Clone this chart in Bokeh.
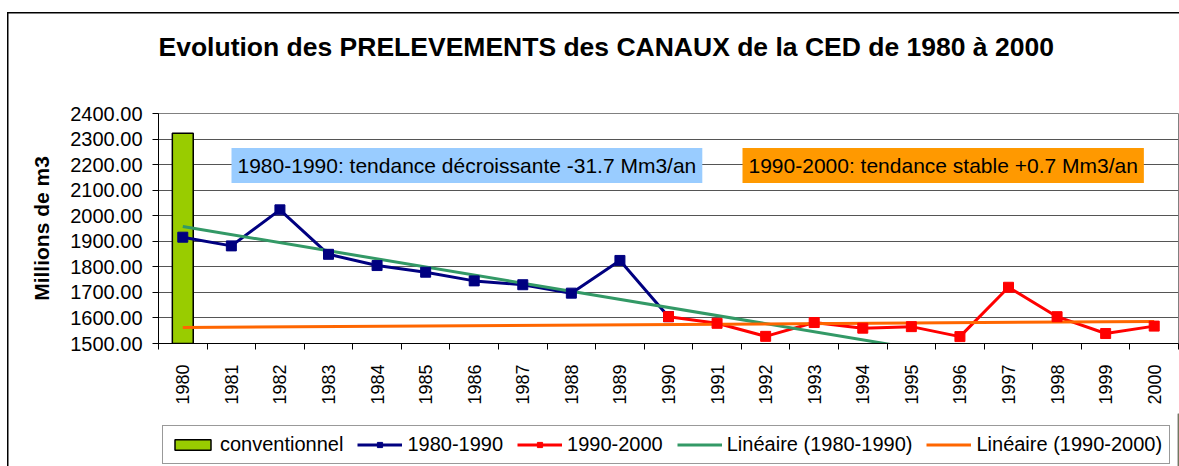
import math
from bokeh.plotting import figure
from bokeh.layouts import column
from bokeh.models import (Range1d, FixedTicker, PrintfTickFormatter, Legend, LegendItem,
                          Label, BasicTickFormatter)
from bokeh.embed import file_html
from bokeh.resources import INLINE

# ---- data ----
years = [1980, 1981, 1982, 1983, 1984, 1985, 1986, 1987, 1988, 1989, 1990,
         1991, 1992, 1993, 1994, 1995, 1996, 1997, 1998, 1999, 2000]
y_ticks = [1500, 1600, 1700, 1800, 1900, 2000, 2100, 2200, 2300, 2400]

conv_years = [1980]
conv_values = [2323]

s1_years = [1980, 1981, 1982, 1983, 1984, 1985, 1986, 1987, 1988, 1989, 1990]
s1_values = [1916, 1882, 2023, 1849, 1805, 1779, 1745, 1730, 1697, 1825, 1605]

s2_years = [1990, 1991, 1992, 1993, 1994, 1995, 1996, 1997, 1998, 1999, 2000]
s2_values = [1605, 1579, 1528, 1582, 1560, 1566, 1527, 1720, 1605, 1539, 1568]

trend1_years = [1980, 1995]
trend1_values = [1958, 1482.5]
trend2_years = [1980, 2000]
trend2_values = [1563, 1586]

title_text = "Evolution des PRELEVEMENTS des CANAUX de la CED de 1980 à 2000"
note1 = "1980-1990: tendance décroissante -31.7 Mm3/an"
note2 = "1990-2000: tendance stable +0.7 Mm3/an"
legend_labels = ["conventionnel", "1980-1990", "1990-2000",
                 "Linéaire (1980-1990)", "Linéaire (1990-2000)"]
FONT = "Liberation Sans"

C_BAR, C_S1, C_S2, C_T1, C_T2 = "#99CC00", "#000080", "#FF0000", "#339966", "#FF6600"
W = 1179


def strip(height):
    f = figure(width=W, height=height, output_backend="svg", toolbar_location=None,
               x_range=Range1d(0, 1), y_range=Range1d(0, 1),
               x_axis_location=None, y_axis_location=None, min_border=0,
               background_fill_color=None, border_fill_color=None)
    f.outline_line_color = None
    f.grid.visible = False
    return f


# ---- title strip ----
t = strip(68)
t.add_layout(Label(x=0, y=22, x_units="screen", y_units="screen", text=title_text,
                   text_font=FONT, text_font_size="26.5px", text_font_style="bold",
                   text_color="black", text_align="left", text_baseline="alphabetic"))

# ---- main chart ----
p = figure(width=W, height=345, output_backend="svg", toolbar_location=None,
           x_range=Range1d(years[0] - 0.5, years[-1] + 0.5),
           y_range=Range1d(y_ticks[0], y_ticks[-1]),
           min_border_left=158, min_border_right=1, min_border_top=45, min_border_bottom=70,
           background_fill_color="white", border_fill_color=None)
p.outline_line_color = "#808080"
p.outline_line_width = 1

p.xgrid.visible = False
p.ygrid.ticker = FixedTicker(ticks=y_ticks)
p.ygrid.grid_line_color = "#555555"
p.ygrid.grid_line_width = 1

p.yaxis.ticker = FixedTicker(ticks=y_ticks)
p.yaxis.formatter = PrintfTickFormatter(format="%.2f")
p.yaxis.major_tick_out = 6
p.yaxis.major_tick_in = 0
p.yaxis.minor_tick_line_color = None
p.yaxis.axis_line_color = "black"
p.yaxis.major_tick_line_color = "black"
p.yaxis.major_label_text_font = FONT
p.yaxis.major_label_text_font_size = "20px"
p.yaxis.major_label_text_color = "black"
p.yaxis.major_label_standoff = 10
p.yaxis.axis_label = "Millions de m3"
p.yaxis.axis_label_text_font = FONT
p.yaxis.axis_label_text_font_size = "21px"
p.yaxis.axis_label_text_font_style = "bold"
p.yaxis.axis_label_text_color = "black"
p.yaxis.axis_label_standoff = 14

p.xaxis.ticker = FixedTicker(ticks=years, minor_ticks=[y - 0.5 for y in years] + [years[-1] + 0.5])
p.xaxis.formatter = BasicTickFormatter(use_scientific=False)
p.xaxis.major_tick_out = 0
p.xaxis.major_tick_in = 0
p.xaxis.minor_tick_out = 6
p.xaxis.minor_tick_in = 0
p.xaxis.minor_tick_line_color = "black"
p.xaxis.axis_line_color = "black"
p.xaxis.major_label_orientation = math.pi / 2
p.xaxis.major_label_text_font = FONT
p.xaxis.major_label_text_font_size = "18px"
p.xaxis.major_label_text_color = "black"
p.xaxis.major_label_standoff = 15

p.vbar(x=conv_years, top=conv_values, bottom=y_ticks[0], width=0.43,
       fill_color=C_BAR, line_color="black", line_width=1.5)
p.line(s1_years, s1_values, line_color=C_S1, line_width=3)
p.line(s2_years, s2_values, line_color=C_S2, line_width=3)
p.line(trend1_years, trend1_values, line_color=C_T1, line_width=3)
p.line(trend2_years, trend2_values, line_color=C_T2, line_width=3)
p.scatter(s1_years, s1_values, marker="square", size=10, fill_color=C_S1, line_color=C_S1)
p.scatter(s2_years, s2_values, marker="square", size=10, fill_color=C_S2, line_color=C_S2)

p.add_layout(Label(x=73, y=178, x_units="screen", y_units="screen", text=note1,
                   text_font=FONT, text_font_size="21px", text_color="black",
                   text_align="left", text_baseline="middle",
                   background_fill_color="#99CCFF", padding=6))
p.add_layout(Label(x=584, y=178, x_units="screen", y_units="screen", text=note2,
                   text_font=FONT, text_font_size="21px", text_color="black",
                   text_align="left", text_baseline="middle",
                   background_fill_color="#FF9900", padding=6))

# ---- legend strip (series drawn off-range, only their legend swatches show) ----
q = strip(53)
g_bar = q.vbar(x=conv_years, top=conv_values, width=0.5, fill_color=C_BAR, line_color="black", line_width=1.5)
g_l1 = q.line(s1_years, s1_values, line_color=C_S1, line_width=3)
g_m1 = q.scatter(s1_years, s1_values, marker="square", size=7, fill_color=C_S1, line_color=C_S1)
g_l2 = q.line(s2_years, s2_values, line_color=C_S2, line_width=3)
g_m2 = q.scatter(s2_years, s2_values, marker="square", size=7, fill_color=C_S2, line_color=C_S2)
g_t1 = q.line(trend1_years, trend1_values, line_color=C_T1, line_width=3)
g_t2 = q.line(trend2_years, trend2_values, line_color=C_T2, line_width=3)

legend = Legend(items=[
    LegendItem(label=legend_labels[0], renderers=[g_bar]),
    LegendItem(label=legend_labels[1], renderers=[g_l1, g_m1]),
    LegendItem(label=legend_labels[2], renderers=[g_l2, g_m2]),
    LegendItem(label=legend_labels[3], renderers=[g_t1]),
    LegendItem(label=legend_labels[4], renderers=[g_t2]),
], orientation="horizontal", location=(4, 2),
    label_text_font=FONT, label_text_font_size="20px", label_text_color="black",
    glyph_width=45, glyph_height=13, label_standoff=5, spacing=14, padding=7, margin=0,
    border_line_color="#333333", border_line_width=1, background_fill_color="white",
    background_fill_alpha=1)
q.add_layout(legend)

layout = column(t, p, q, spacing=0)
# outer chart frame (left and top edges of the chart area)
layout.styles = {"box-shadow": "inset 7px 12px 0 0 white, inset 8.5px 13.5px 0 0 black"}
open("out.html", "w").write(file_html(layout, INLINE))
